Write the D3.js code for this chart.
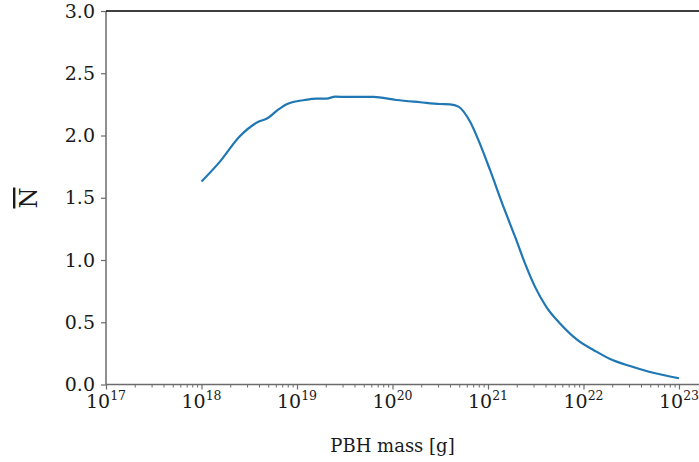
<!DOCTYPE html>
<html>
<head>
<meta charset="utf-8">
<script src="https://cdn.jsdelivr.net/npm/d3@7"></script>
<style>
  html, body { margin: 0; padding: 0; background: #fff; }
  svg { display: block; }
  text { font-family: "DejaVu Serif", serif; fill: #1a1a1a; }
</style>
</head>
<body>
<svg id="chart" width="699" height="462"></svg>
<script>
// ---- data ----
const mass = [1.0e18, 1.56e18, 2.49e18, 3.94e18, 4.9e18, 6.3e18, 7.9e18, 1.2e19, 1.61e19, 2.04e19,
  2.51e19, 3.3e19, 6.3e19, 1.1e20, 1.95e20, 3.14e20, 4.0e20, 4.9e20, 6.5e20, 8.2e20,
  1.05e21, 1.45e21, 1.92e21, 2.44e21, 3.1e21, 4.11e21, 5.68e21, 8.55e21, 1.38e22, 1.9e22,
  3.07e22, 4.97e22, 1.0e23];
const nbar = [1.63, 1.79, 1.99, 2.11, 2.138, 2.205, 2.253, 2.285, 2.296, 2.296,
  2.312, 2.31, 2.31, 2.285, 2.267, 2.253, 2.25, 2.232, 2.11, 1.937,
  1.723, 1.428, 1.187, 0.973, 0.786, 0.62, 0.49, 0.36, 0.262, 0.205,
  0.148, 0.10, 0.05];
const xMajorTicks = [1e17, 1e18, 1e19, 1e20, 1e21, 1e22, 1e23];
const xTickExps = ["17", "18", "19", "20", "21", "22", "23"];
const yTicks = [0, 0.5, 1.0, 1.5, 2.0, 2.5, 3.0];
const xDomain = [1e17, 1.62e23];
const yDomain = [0, 3];
const xLabel = "PBH mass [g]";
const yLabel = "N";

// ---- layout ----
const svg = d3.select("#chart");
const mLeft = 106, mRight = 699, mTop = 11, mBottom = 384.5;

const x = d3.scaleLog().domain(xDomain).range([mLeft, mRight]);
const y = d3.scaleLinear().domain(yDomain).range([mBottom, mTop]);

// minor ticks
const minor = [];
for (let e = 17; e < 24; e++) {
  for (let m = 2; m <= 9; m++) {
    const v = m * Math.pow(10, e);
    if (v < xDomain[1]) minor.push(v);
  }
}

const axisColor = "#6b6b6b";

// x axis
const gx = svg.append("g").attr("transform", `translate(0,${mBottom})`);
gx.append("g").call(d3.axisBottom(x).tickValues(minor).tickSize(3).tickFormat(""))
  .call(g => g.select(".domain").remove())
  .selectAll("line").attr("stroke", axisColor).attr("stroke-width", 1);
const gMaj = gx.append("g").call(d3.axisBottom(x).tickValues(xMajorTicks).tickSize(5).tickFormat(""))
  .call(g => g.select(".domain").remove());
gMaj.selectAll("line").attr("stroke", axisColor).attr("stroke-width", 1.2);
gx.append("line").attr("x1", mLeft).attr("x2", mRight).attr("y1", 0).attr("y2", 0)
  .attr("stroke", axisColor).attr("stroke-width", 1.5);

// x tick labels
xMajorTicks.forEach((v, i) => {
  const t = gx.append("text").attr("x", x(v)).attr("y", 23.5)
    .attr("text-anchor", "middle").attr("font-size", 19);
  t.append("tspan").text("10");
  t.append("tspan").attr("font-size", 12.5).attr("dy", -8).text(xTickExps[i]);
});

// y axis
const gy = svg.append("g").attr("transform", `translate(${mLeft},0)`);
gy.call(d3.axisLeft(y).tickValues(yTicks).tickSize(5).tickPadding(6).tickFormat(d3.format(".1f")));
gy.select(".domain").remove();
gy.selectAll("line").attr("stroke", axisColor).attr("stroke-width", 1.2);
gy.selectAll("text").attr("font-size", 19).attr("font-family", "DejaVu Serif").attr("fill", "#1a1a1a");
gy.append("line").attr("x1", 0).attr("x2", 0).attr("y1", mTop).attr("y2", mBottom)
  .attr("stroke", axisColor).attr("stroke-width", 1.5);

// top spine
svg.append("line").attr("x1", mLeft).attr("x2", mRight).attr("y1", mTop).attr("y2", mTop)
  .attr("stroke", "#000").attr("stroke-width", 1.3);

// line
const pts = mass.map((m, i) => [m, nbar[i]]);
svg.append("path").datum(pts)
  .attr("fill", "none").attr("stroke", "#1f77b4").attr("stroke-width", 2.2)
  .attr("stroke-linejoin", "round").attr("stroke-linecap", "butt")
  .attr("d", d3.line().curve(d3.curveMonotoneX).x(d => x(d[0])).y(d => y(d[1])));

// axis labels
svg.append("text").attr("x", (x(1e17) + x(1e23)) / 2).attr("y", 452)
  .attr("text-anchor", "middle").attr("font-size", 18).text(xLabel);
svg.append("text")
  .attr("transform", "translate(37,198) rotate(-90)")
  .attr("text-anchor", "middle").attr("font-size", 24)
  .style("text-decoration", "overline")
  .text(yLabel);
</script>
</body>
</html>
